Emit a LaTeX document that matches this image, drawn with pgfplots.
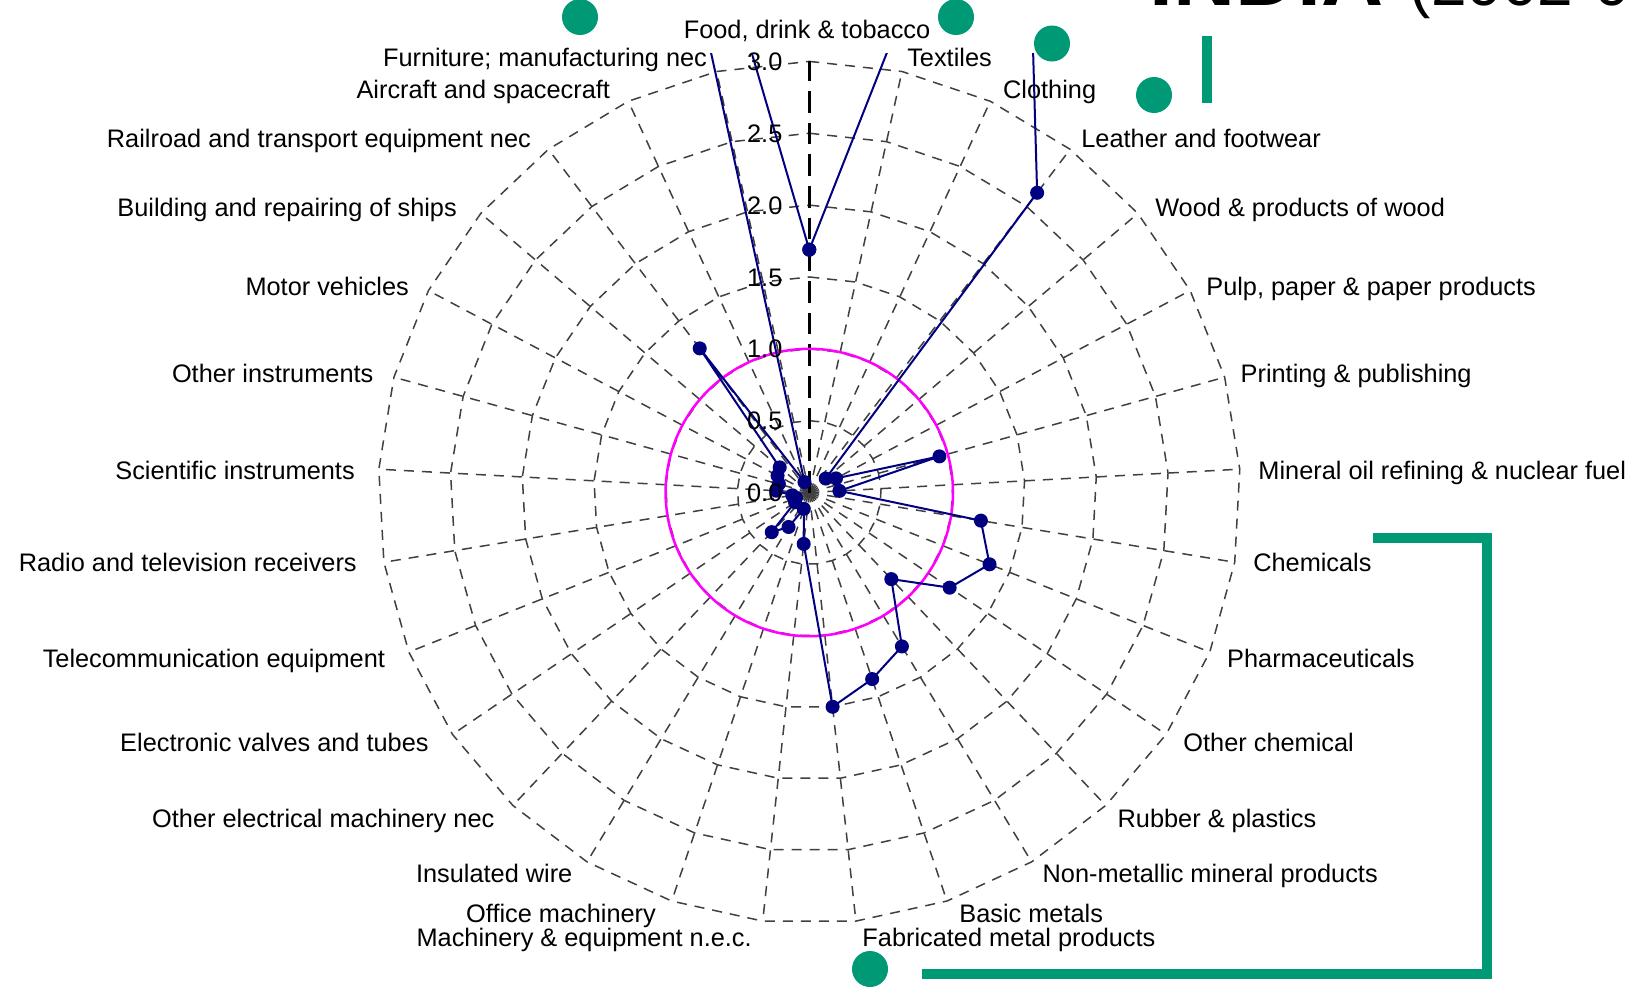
\documentclass[border=0pt]{standalone}
\usepackage{pgfplots}
\pgfplotsset{compat=1.18}
\usepackage{pgfplotstable}
\usepackage{fontspec}
\setmainfont{Liberation Sans}
\definecolor{navyblue}{RGB}{0,0,128}
\definecolor{slidegreen}{RGB}{0,153,118}
\definecolor{refmagenta}{RGB}{255,0,255}

% k = category index (clockwise from top), v = value
\pgfplotstableread{
k v
0 1.69
1 3.92
2 3.69
3 2.62
4 0.15
5 0.21
6 0.94
7 0.21
8 1.21
9 1.35
10 1.18
11 0.83
12 1.25
13 1.37
14 1.50
15 0.36
16 0.12
17 0.28
18 0.38
19 0.12
20 0.10
21 0.12
22 0.23
23 0.22
24 0.25
25 0.27
26 1.26
27 0.08
28 7.00
29 1.69
}\radardata

\begin{document}
\begin{tikzpicture}[x=0.3pt,y=0.3pt,
  lab/.style={inner sep=0pt, font=\fontsize{7.6}{9}\selectfont}]
\useasboundingbox (0,0) rectangle (1634,988);
\clip (0,0) rectangle (1634,988);
\begin{scope}
\clip (0,0) rectangle (1634,{988-53});
\begin{axis}[at={(242.79pt,148.65pt)}, anchor=center,
  x=43.11pt, y=43.11pt,
  xmin=-3.6, xmax=3.6, ymin=-3.6, ymax=3.6,
  hide axis, clip=false]
% polygon rings
\pgfplotsinvokeforeach{0.5,1.0,1.5,2.0,2.5,3.0}{
  \addplot[black!75, line width=0.45pt, dash pattern=on 3pt off 2.4pt,
    domain=0:360, samples=30, mark=none] ({#1*sin(x)},{#1*cos(x)});
}
% spokes
\pgfplotsinvokeforeach{1,...,28}{
  \addplot[black!75, line width=0.45pt, dash pattern=on 3pt off 2.4pt,
    domain=0:3, samples=2, mark=none] ({x*sin(#1*360/29)},{x*cos(#1*360/29)});
}
\addplot[black, line width=0.8pt, dash pattern=on 6.5pt off 3pt, mark=none]
  coordinates {(0,0) (0,3)};
% reference circle at 1.0
\addplot[refmagenta, line width=0.75pt, domain=0:360, samples=145, mark=none]
  ({sin(x)},{cos(x)});
% data
\addplot[navyblue, line width=0.6pt, mark=*, mark size=1.8pt,
  mark options={solid, fill=navyblue}]
  table[x expr={\thisrow{v}*sin(\thisrow{k}*360/29)},
        y expr={\thisrow{v}*cos(\thisrow{k}*360/29)}] {\radardata};
\end{axis}
\end{scope}

% value labels
\node[lab, anchor=base east] at (783,{988-70.4}) {3.0};
\node[lab, anchor=base east] at (783,{988-142.3}) {2.5};
\node[lab, anchor=base east] at (783,{988-214.1}) {2.0};
\node[lab, anchor=base east] at (783,{988-286}) {1.5};
\node[lab, anchor=base east] at (783,{988-357.8}) {1.0};
\node[lab, anchor=base east] at (783,{988-429.7}) {0.5};
\node[lab, anchor=base east] at (783,{988-501.5}) {0.0};

% category labels
\node[lab, anchor=base] at (807,{988-38.3}) {Food, drink \& tobacco};
\node[lab, anchor=base west] at (906.6,{988-66.6}) {Textiles};
\node[lab, anchor=base west] at (1002.5,{988-98.9}) {Clothing};
\node[lab, anchor=base west] at (1080.7,{988-147.9}) {Leather and footwear};
\node[lab, anchor=base west] at (1154.6,{988-216.7}) {Wood \& products of wood};
\node[lab, anchor=base west] at (1205.7,{988-295.9}) {Pulp, paper \& paper products};
\node[lab, anchor=base west] at (1240,{988-382.3}) {Printing \& publishing};
\node[lab, anchor=base west] at (1257.8,{988-479.3}) {Mineral oil refining \& nuclear fuel};
\node[lab, anchor=base west] at (1252.6,{988-571}) {Chemicals};
\node[lab, anchor=base west] at (1226.5,{988-667.9}) {Pharmaceuticals};
\node[lab, anchor=base west] at (1182.8,{988-751.3}) {Other chemical};
\node[lab, anchor=base west] at (1117,{988-827.3}) {Rubber \& plastics};
\node[lab, anchor=base west] at (1042,{988-882.6}) {Non-metallic mineral products};
\node[lab, anchor=base west] at (958.7,{988-922.3}) {Basic metals};
\node[lab, anchor=base west] at (861.8,{988-946.1}) {Fabricated metal products};
\node[lab, anchor=base east] at (752.4,{988-946.1}) {Machinery \& equipment n.e.c.};
\node[lab, anchor=base east] at (656.5,{988-922.3}) {Office machinery};
\node[lab, anchor=base east] at (573,{988-882.6}) {Insulated wire};
\node[lab, anchor=base east] at (495,{988-827.3}) {Other electrical machinery nec};
\node[lab, anchor=base east] at (429.3,{988-751.3}) {Electronic valves and tubes};
\node[lab, anchor=base east] at (385.6,{988-667.9}) {Telecommunication equipment};
\node[lab, anchor=base east] at (357.4,{988-571}) {Radio and television receivers};
\node[lab, anchor=base east] at (355.4,{988-479.3}) {Scientific instruments};
\node[lab, anchor=base east] at (374,{988-382.3}) {Other instruments};
\node[lab, anchor=base east] at (409.5,{988-295.9}) {Motor vehicles};
\node[lab, anchor=base east] at (457.5,{988-216.7}) {Building and repairing of ships};
\node[lab, anchor=base east] at (531.5,{988-147.9}) {Railroad and transport equipment nec};
\node[lab, anchor=base east] at (610.7,{988-98.9}) {Aircraft and spacecraft};
\node[lab, anchor=base east] at (707.6,{988-66.6}) {Furniture; manufacturing nec};

% slide decorations
\fill[slidegreen] (580,{988-17}) circle[radius=18];
\fill[slidegreen] (956,{988-17}) circle[radius=18];
\fill[slidegreen] (1052,{988-43.5}) circle[radius=18];
\fill[slidegreen] (1154,{988-95}) circle[radius=18];
\fill[slidegreen] (870,{988-969}) circle[radius=18];
\fill[slidegreen] (1202,{988-36}) rectangle (1212,{988-103});
\draw[slidegreen, line width=3pt, line join=miter]
  (1373,{988-538}) -- (1487,{988-538}) -- (1487,{988-973.5}) -- (922,{988-973.5});

% title (cut off by the frame)
\node[inner sep=0pt, anchor=base west, font=\fontsize{25.8}{30}\selectfont\bfseries]
  at (1149,{988-5}) {INDIA};
\node[inner sep=0pt, anchor=base west, font=\fontsize{19.2}{23}\selectfont\mdseries]
  at (1409,{988-5}) {(2002-03)};
\end{tikzpicture}
\end{document}
